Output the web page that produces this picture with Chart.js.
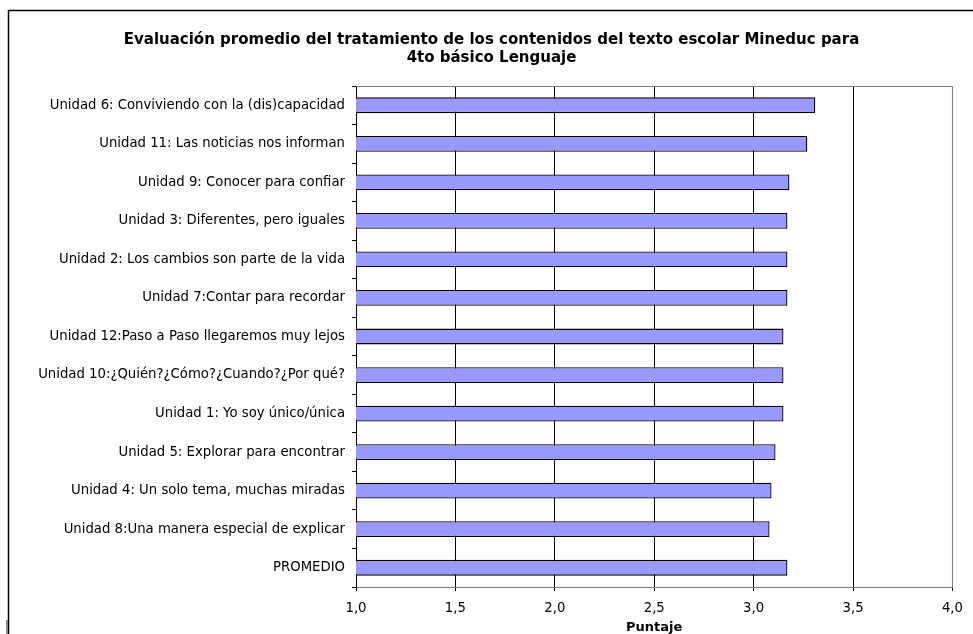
<!DOCTYPE html>
<html><head><meta charset="utf-8">
<script src="https://cdn.jsdelivr.net/npm/chart.js@4"></script>
<style>html,body{margin:0;padding:0;background:#fff}#wrap{width:973px;height:634px;position:relative}</style>
</head><body><div id="wrap"><canvas id="c" width="973" height="634"></canvas></div>
<script>
const categories = [
  'Unidad 6: Conviviendo con la (dis)capacidad',
  'Unidad 11: Las noticias nos informan',
  'Unidad 9: Conocer para confiar',
  'Unidad 3: Diferentes, pero iguales',
  'Unidad 2: Los cambios son parte de la vida',
  'Unidad 7:Contar para recordar',
  'Unidad 12:Paso a Paso llegaremos muy lejos',
  'Unidad 10:¿Quién?¿Cómo?¿Cuando?¿Por qué?',
  'Unidad 1: Yo soy único/única',
  'Unidad 5: Explorar para encontrar',
  'Unidad 4: Un solo tema, muchas miradas',
  'Unidad 8:Una manera especial de explicar',
  'PROMEDIO'
];
const puntajes = [3.31, 3.27, 3.18, 3.17, 3.17, 3.17, 3.15, 3.15, 3.15, 3.11, 3.09, 3.08, 3.17];
const xMin = 1.0, xMax = 4.0, xStep = 0.5;
const titleLines = ['Evaluación promedio del tratamiento de los contenidos del texto escolar Mineduc para', '4to básico Lenguaje'];
const xTitle = 'Puntaje';

const FONT = 'DejaVu Sans';

const framePlugin = {
  id: 'frame',
  beforeDraw(chart) {
    const ctx = chart.ctx;
    ctx.save();
    ctx.fillStyle = '#fff';
    ctx.fillRect(0, 0, chart.width, chart.height);
    ctx.restore();
  },
  afterDraw(chart) {
    const ctx = chart.ctx;
    const a = chart.chartArea;
    ctx.save();
    ctx.strokeStyle = '#808080';
    ctx.lineWidth = 1;
    ctx.beginPath();
    ctx.moveTo(a.left, a.top + 0.5);
    ctx.lineTo(a.right, a.top + 0.5);
    ctx.moveTo(a.right, a.top);
    ctx.lineTo(a.right, a.bottom);
    ctx.stroke();
    ctx.strokeStyle = '#000';
    ctx.lineWidth = 1.5;
    ctx.beginPath();
    ctx.moveTo(8.5, chart.height);
    ctx.lineTo(8.5, 10.5);
    ctx.lineTo(chart.width, 10.5);
    ctx.stroke();
    ctx.fillStyle = '#888';
    ctx.fillRect(6, 620, 2, 14);
    ctx.restore();
  }
};

new Chart(document.getElementById('c'), {
  type: 'bar',
  data: {
    labels: categories,
    datasets: [{
      data: puntajes,
      backgroundColor: '#9999FF',
      borderColor: '#000',
      borderWidth: 1.3,
      borderSkipped: false,
      categoryPercentage: 1,
      barPercentage: 0.41
    }]
  },
  options: {
    indexAxis: 'y',
    responsive: false,
    devicePixelRatio: 1,
    animation: false,
    layout: { padding: { left: 30, right: 20, top: 0, bottom: 0 } },
    plugins: {
      legend: { display: false },
      tooltip: { enabled: false },
      title: {
        display: true,
        text: titleLines,
        color: '#000',
        font: { family: FONT, size: 15, weight: 'bold', lineHeight: 1.2 },
        padding: { top: 31, bottom: 19 }
      }
    },
    scales: {
      x: {
        min: xMin, max: xMax,
        ticks: {
          stepSize: xStep,
          color: '#000',
          padding: 10,
          font: { family: FONT, size: 13.25 },
          callback: v => Number(v).toFixed(1).replace('.', ',')
        },
        grid: {
          color: ctx => (ctx.tick && ctx.tick.value === xMax) ? '#808080' : '#000',
          lineWidth: 1,
          tickLength: 4,
          tickColor: '#000'
        },
        border: { color: '#808080', width: 1 },
        title: {
          display: true, text: xTitle, color: '#000',
          font: { family: FONT, size: 13, weight: 'bold', lineHeight: 1 },
          padding: 0
        },
        afterFit(scale) { scale.height = 47; }
      },
      y: {
        ticks: {
          color: '#000',
          padding: 7,
          font: { family: FONT, size: 13.25 },
          autoSkip: false
        },
        grid: {
          display: true,
          drawOnChartArea: false,
          drawTicks: true,
          tickLength: 4,
          offset: true,
          color: '#000'
        },
        border: { color: '#000', width: 1 },
        afterFit(scale) { scale.width = 326; }
      }
    }
  },
  plugins: [framePlugin]
});
</script></body></html>
